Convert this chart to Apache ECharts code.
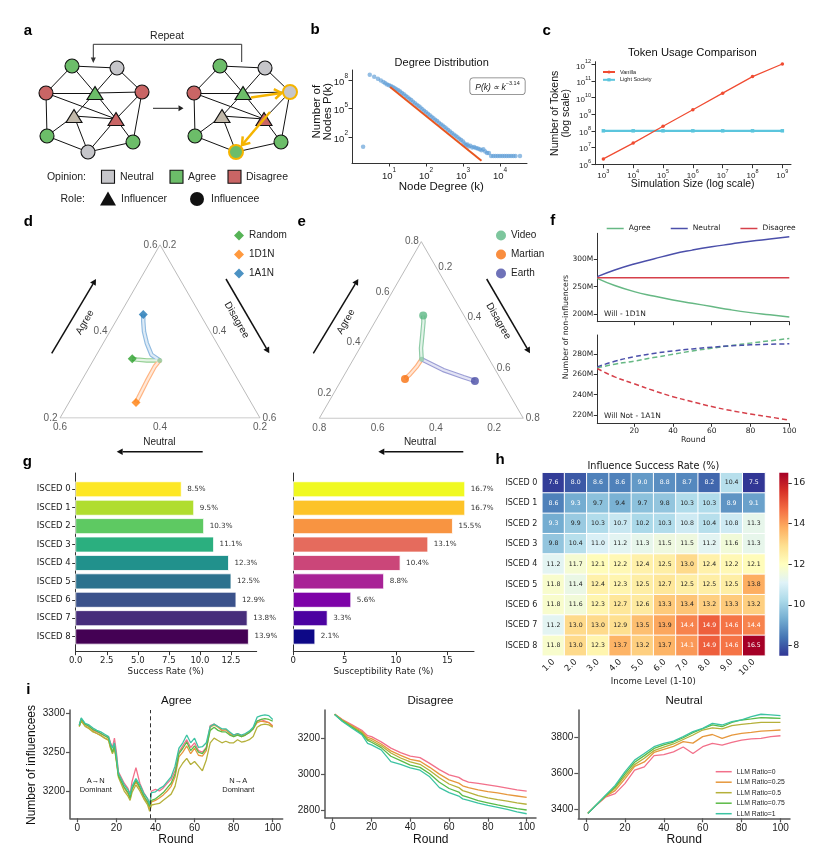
<!DOCTYPE html>
<html>
<head>
<meta charset="utf-8">
<script src="https://cdn.jsdelivr.net/npm/echarts@6.0.0/dist/echarts.min.js"></script>
<style>
html, body { margin: 0; padding: 0; background: #fff; }
#main { width: 817px; height: 863px; }
</style>
</head>
<body>
<div id="main"></div>
<script>
var SANS = "'Liberation Sans', Arial, Helvetica, sans-serif";
var DJ = "'DejaVu Sans', sans-serif";

// ---------- a: network sketch ----------
var netNodes = [
  ['TL', 72, 66, 'circle', 'agree'],
  ['TR', 117, 68, 'circle', 'neutral'],
  ['L', 46, 93, 'circle', 'disagree'],
  ['GT', 95, 93, 'triangle', 'agree'],
  ['R', 142, 92, 'circle', 'disagree'],
  ['NT', 74, 116, 'triangle', 'neutral'],
  ['DT', 116, 119, 'triangle', 'disagree'],
  ['BL', 47, 136, 'circle', 'agree'],
  ['B', 88, 152, 'circle', 'neutral'],
  ['BR', 133, 142, 'circle', 'agree']
];
var netEdges = [['TL','TR'],['TL','L'],['TL','GT'],['TR','GT'],['TR','R'],['L','GT'],['L','DT'],
  ['GT','R'],['GT','NT'],['GT','DT'],['R','DT'],['R','BR'],['NT','DT'],['NT','BL'],['NT','B'],
  ['DT','B'],['DT','BR'],['L','BL'],['BL','B'],['B','BR']];
var netShift = 148;
var netChanged = {R: 'neutral', B: 'agree'};
var opinionColor = {neutral: '#C6C6CA', agree: '#6CBD69', disagree: '#C96565'};
var influencerColor = {neutral: '#C2B9AA', agree: '#6CBD69', disagree: '#C96565'};

// ---------- b: degree distribution (log10 k, log10 count) ----------
var degreeDist = [[0.30,0.98],[0.48,8.56],[0.60,8.34],[0.70,8.13],[0.78,7.95],[0.85,7.78],[0.90,7.65],[0.95,7.53],
  [1.00,7.45],[1.05,7.36],[1.10,7.26],[1.15,7.15],[1.20,7.03],[1.25,6.91],[1.30,6.78],[1.35,6.64],[1.40,6.50],
  [1.45,6.35],[1.50,6.19],[1.55,6.03],[1.60,5.88],[1.65,5.72],[1.70,5.56],[1.75,5.40],[1.80,5.25],[1.85,5.09],
  [1.90,4.92],[1.95,4.77],[2.00,4.61],[2.05,4.45],[2.10,4.29],[2.15,4.14],[2.20,3.98],[2.25,3.82],[2.30,3.67],
  [2.35,3.51],[2.40,3.35],[2.45,3.20],[2.50,3.04],[2.55,2.88],[2.60,2.73],[2.65,2.57],[2.70,2.41],[2.75,2.25],
  [2.80,2.12],[2.85,1.96],[2.90,1.82],[2.95,1.68],[3.00,1.52],[3.04,1.30],[3.08,1.15],[3.12,1.20],[3.15,1.00],
  [3.20,1.08],[3.25,0.90],[3.30,0.95],[3.35,0.85],[3.40,0.78],[3.45,0.70],[3.50,0.60],[3.55,0.70],[3.60,0.48],
  [3.65,0.30],[3.70,0.30],[3.76,0],[3.82,0],[3.88,0],[3.94,0],[4.00,0],[4.06,0],[4.12,0],[4.18,0],[4.24,0],
  [4.30,0],[4.36,0],[4.42,0],[4.54,0]];
var fitLine = [[1.03,7.26],[3.50,-0.50]];
var degreeTicksX = [1,2,3,4];
var degreeTicksY = [2,5,8];

// ---------- c: token usage ----------
var simSizes = [1e3,1e4,1e5,1e6,1e7,1e8,1e9];
var vanillaTokens = [2e6,1.8e7,1.9e8,1.9e9,1.9e10,1.9e11,1.1e12];
var lightTokens = [1e8,1e8,1e8,1e8,1e8,1e8,1e8];
var tokenTicksX = [3,4,5,6,7,8,9];
var tokenTicksY = [6,7,8,9,10,11,12];

// ---------- d, e: ternary trajectories [agree, neutral, disagree] ----------
var ternTicksD = [0.2,0.4,0.6];
var trajRandom = [[0.333,0.334,0.333],[0.333,0.360,0.307],[0.335,0.379,0.286],[0.337,0.387,0.276]];
var traj1D1N = [[0.333,0.334,0.333],[0.319,0.351,0.330],[0.285,0.384,0.331],[0.254,0.413,0.333],[0.236,0.430,0.334]];
var traj1A1N = [[0.333,0.334,0.333],[0.346,0.344,0.310],[0.373,0.340,0.287],[0.400,0.332,0.268],[0.423,0.322,0.255],[0.439,0.314,0.247]];
var ternTicksE = [0.2,0.4,0.6,0.8];
var trajVideo = [[0.334,0.332,0.334],[0.378,0.312,0.310],[0.431,0.281,0.288],[0.483,0.251,0.266],[0.507,0.240,0.253]];
var trajMartian = [[0.334,0.332,0.334],[0.305,0.363,0.332],[0.274,0.402,0.324],[0.256,0.428,0.316]];
var trajEarth = [[0.334,0.332,0.334],[0.291,0.279,0.430],[0.263,0.224,0.513],[0.248,0.192,0.560]];

// ---------- f: non-influencers (millions) ----------
var roundsF = [1,10,20,30,40,50,60,70,80,90,100];
var willAgree = [265,252,241,233,226,220,214,208,203,199,195];
var willNeutral = [268,280,291,300,309,316,322,327,332,336,340];
var willDisagree = [266,266,266,266,266,266,266,266,266,266,266];
var notAgree = [266.3,270,273,276.5,279.7,283,285.7,288.3,290.7,293,295.3];
var notNeutral = [267.3,272.8,277.3,280.5,283,285,286.7,288,289,289.6,290];
var notDisagree = [265.7,257.5,250.7,244,238,233,228.3,224.3,221,218,215];
var roundTicksF = [20,40,60,80,100];

// ---------- g: education ----------
var isced = ['ISCED 0','ISCED 1','ISCED 2','ISCED 3','ISCED 4','ISCED 5','ISCED 6','ISCED 7','ISCED 8'];
var successRate = [8.5,9.5,10.3,11.1,12.3,12.5,12.9,13.8,13.9];
var susceptRate = [16.7,16.7,15.5,13.1,10.4,8.8,5.6,3.3,2.1];
var viridis9 = ['#FDE725','#B0DD2F','#5EC962','#2BAF7F','#21918C','#2C728E','#3B528B','#472D7B','#440154'];
var plasma9 = ['#F0F921','#FDC328','#F89441','#E56B5D','#CB4679','#A82296','#7E03A8','#4C02A1','#0D0887'];

// ---------- h: heatmap ----------
var incomeLevels = ['1.0','2.0','3.0','4.0','5.0','6.0','7.0','8.0','9.0','10.0'];
var heatRows = [
  [7.6,8.0,8.6,8.6,9.0,8.8,8.7,8.2,10.4,7.5],
  [8.6,9.3,9.7,9.4,9.7,9.8,10.3,10.3,8.9,9.1],
  [9.3,9.9,10.3,10.7,10.2,10.3,10.8,10.4,10.8,11.3],
  [9.8,10.4,11.0,11.2,11.3,11.5,11.5,11.2,11.6,11.3],
  [11.2,11.7,12.1,12.2,12.4,12.5,13.0,12.4,12.2,12.1],
  [11.8,11.4,12.4,12.3,12.5,12.7,12.5,12.5,12.5,13.8],
  [11.8,11.6,12.3,12.7,12.6,13.3,13.4,13.2,13.3,13.2],
  [11.2,13.0,13.0,12.9,13.5,13.9,14.4,14.9,14.6,14.4],
  [11.8,13.0,12.3,13.7,13.2,13.7,14.1,14.9,14.6,16.5]
];
var rdylbuR = ['#313695','#4575B4','#74ADD1','#ABD9E9','#E0F3F8','#FFFFBF','#FEE090','#FDAE61','#F46D43','#D73027','#A50026'];
var heatRange = [7.5,16.5];
var cbarTicks = [8,10,12,14,16];

// ---------- i: influencees per round ----------
var ratioNames = ['LLM Ratio=0','LLM Ratio=0.25','LLM Ratio=0.5','LLM Ratio=0.75','LLM Ratio=1'];
var ratioColors = ['#F2708A','#E6973C','#B5B03A','#5BBA46','#3CC3A2'];
var roundsA = [1,2,4,6,8,10,12,14,16,17,18,19,20,21,22,24,26,27,28,30,32,34,36,37,38,40,42,44,46,48,50,
  52,54,56,58,60,62,64,66,68,70,72,74,76,78,80,82,84,86,88,90,92,94,96,98,100];
var agreeRuns = [
  [3285,3292,3286,3284,3279,3276,3274,3271,3270,3262,3256,3268,3250,3225,3220,3210,3203,3196,3212,3230,
   3210,3198,3190,3180,3200,3202,3200,3204,3210,3215,3226,3250,3258,3266,3256,3262,3252,3250,3256,3284,3286,
   3283,3278,3279,3274,3272,3274,3271,3273,3276,3280,3290,3292,3290,3288,3284],
  [3283,3291,3284,3281,3277,3274,3272,3268,3266,3256,3250,3258,3240,3222,3216,3204,3196,3190,3202,3212,
   3203,3192,3184,3177,3186,3188,3191,3195,3200,3206,3218,3244,3250,3258,3248,3255,3246,3245,3252,3282,3285,
   3282,3278,3279,3274,3270,3273,3270,3272,3276,3280,3288,3290,3289,3288,3283],
  [3283,3290,3283,3280,3276,3274,3271,3268,3265,3255,3248,3255,3238,3218,3212,3200,3193,3188,3198,3208,
   3200,3190,3182,3174,3182,3183,3184,3188,3192,3196,3206,3228,3236,3242,3234,3238,3232,3226,3240,3262,3268,
   3265,3262,3264,3262,3262,3266,3263,3264,3266,3270,3282,3285,3286,3285,3282],
  [3284,3293,3286,3283,3279,3277,3274,3271,3268,3258,3250,3258,3240,3220,3215,3205,3198,3191,3203,3214,
   3205,3194,3186,3180,3188,3190,3194,3198,3204,3210,3222,3248,3255,3263,3252,3258,3250,3248,3255,3278,3282,
   3278,3276,3276,3272,3270,3272,3270,3272,3275,3280,3290,3292,3293,3292,3290],
  [3285,3294,3287,3285,3281,3278,3276,3273,3270,3261,3255,3262,3246,3223,3218,3208,3201,3195,3206,3216,
   3208,3197,3190,3183,3198,3199,3203,3206,3212,3218,3232,3255,3262,3272,3262,3268,3256,3257,3262,3283,3286,
   3283,3280,3280,3276,3272,3274,3272,3274,3277,3282,3295,3297,3298,3297,3292]
];
var roundsD = [1,5,10,15,18,20,25,30,35,40,45,50,55,60,65,67,70,75,80,85,90,95,100];
var disagreeRuns = [
  [3335,3305,3275,3245,3215,3209,3180,3145,3120,3100,3092,3060,3025,2996,2982,2968,2955,2948,2940,2932,2922,2912,2905],
  [3334,3302,3270,3238,3205,3198,3168,3130,3105,3082,3072,3038,3000,2968,2950,2935,2925,2912,2902,2895,2886,2878,2870],
  [3334,3300,3266,3232,3196,3188,3158,3118,3090,3068,3055,3020,2980,2945,2925,2908,2898,2880,2868,2858,2850,2840,2832],
  [3333,3297,3262,3226,3188,3178,3148,3100,3075,3050,3038,3002,2955,2920,2900,2880,2870,2852,2840,2828,2818,2808,2800],
  [3333,3294,3256,3220,3172,3163,3135,3070,3055,3035,3022,2985,2925,2897,2878,2862,2854,2838,2826,2815,2804,2790,2779]
];
var roundsN = [1,5,10,15,20,25,30,35,40,45,50,55,60,65,70,75,80,85,90,95,100];
var neutralRuns = [
  [3378,3420,3468,3488,3544,3619,3637,3700,3706,3721,3748,3712,3750,3768,3759,3774,3787,3793,3796,3806,3811],
  [3378,3421,3472,3505,3570,3640,3665,3718,3735,3752,3778,3770,3806,3818,3796,3815,3824,3830,3837,3840,3843],
  [3378,3421,3474,3518,3585,3650,3685,3728,3748,3765,3790,3815,3843,3855,3849,3868,3875,3880,3886,3886,3886],
  [3378,3422,3476,3526,3598,3663,3700,3740,3760,3776,3800,3828,3850,3872,3862,3885,3899,3905,3912,3910,3908],
  [3378,3422,3478,3534,3609,3675,3712,3750,3768,3781,3806,3834,3852,3880,3871,3890,3899,3918,3931,3927,3923]
];
var switchRound = 37.5;
var roundTicksI = [0,20,40,60,80,100];

// ================= helpers =================
function merge(a, b) {
  var o = {}, k;
  for (k in a) o[k] = a[k];
  for (k in b) {
    if (b[k] && typeof b[k] === 'object' && !Array.isArray(b[k]) && o[k] && typeof o[k] === 'object' && !Array.isArray(o[k])) o[k] = merge(o[k], b[k]);
    else o[k] = b[k];
  }
  return o;
}
function axis(gi, o) {
  return merge({
    gridIndex: gi, type: 'value',
    axisLine: {show: true, onZero: false, lineStyle: {color: '#333', width: 1}},
    axisTick: {show: true, length: 3.5, lineStyle: {color: '#333', width: 1}},
    axisLabel: {fontSize: 9, color: '#222', margin: 5, fontFamily: SANS},
    splitLine: {show: false}
  }, o || {});
}
function hidden(gi, min, max, inv) {
  return {gridIndex: gi, type: 'value', min: min, max: max, inverse: !!inv, show: false};
}
function zip(xs, ys) { return xs.map(function (x, i) { return [x, ys[i]]; }); }
function logZip(xs, ys) { return xs.map(function (x, i) { return [Math.log10(x), Math.log10(ys[i])]; }); }
function tern(p, lo, span) {
  var a = (p[0] - lo) / span, d = (p[2] - lo) / span;
  return [d + a / 2, a * 0.8660254];
}
function txt(x, y, s, o) {
  o = o || {};
  return {type: 'text', x: x, y: y, rotation: o.rot || 0, z: 50, silent: true,
    style: {text: s, fontSize: o.size || 10, fontFamily: o.font || SANS, fontWeight: o.bold ? 'bold' : 'normal',
      fill: o.color || '#111', align: o.align || 'center', verticalAlign: o.va || 'middle',
      lineHeight: o.lh, fontStyle: o.italic ? 'italic' : 'normal'}};
}
function arrow(x1, y1, x2, y2, o) {
  o = o || {};
  var c = o.color || '#111', w = o.w || 1.5, hs = o.head || 6, hw = o.hw || hs * 0.55;
  var ang = Math.atan2(y2 - y1, x2 - x1);
  var bx = x2 - hs * Math.cos(ang), by = y2 - hs * Math.sin(ang);
  var px = -Math.sin(ang) * hw, py = Math.cos(ang) * hw;
  var out = [{type: 'line', z: 50, silent: true, shape: {x1: x1, y1: y1, x2: o.open ? x2 : bx, y2: o.open ? y2 : by},
    style: {stroke: c, lineWidth: w}}];
  if (o.open) out.push({type: 'polyline', z: 50, silent: true, shape: {points: [[bx + px, by + py], [x2, y2], [bx - px, by - py]]},
    style: {stroke: c, lineWidth: w, fill: null}});
  else out.push({type: 'polygon', z: 50, silent: true, shape: {points: [[x2, y2], [bx + px, by + py], [bx - px, by - py]]}, style: {fill: c}});
  return out;
}
var richB = {b: {fontSize: 9.5, fontFamily: SANS, color: '#222', verticalAlign: 'bottom', padding: [4, 0, 0, 0]},
             s: {fontSize: 6.5, fontFamily: SANS, color: '#222', verticalAlign: 'top'}};
var richC = {b: {fontSize: 8, fontFamily: SANS, color: '#222', verticalAlign: 'bottom', padding: [3.5, 0, 0, 0]},
             s: {fontSize: 5.5, fontFamily: SANS, color: '#222', verticalAlign: 'top'}};
function pow10(v) { return '{b|10}{s|' + v + '}'; }

// ================= grids =================
var grids = [
  [0, 0, 817, 863],            // 0 overlay (panel a)
  [352, 70, 175, 93],          // 1 b
  [595, 61.7, 196, 103],       // 2 c
  [60, 244.8, 200, 173.2],     // 3 d
  [319.3, 241.6, 204, 176.7],  // 4 e
  [597.3, 233.3, 192, 88.4],   // 5 f top
  [597.3, 335, 192, 88.3],     // 6 f bottom
  [75.7, 473, 181, 178.7],     // 7 g left
  [293.3, 473, 180.7, 178.7],  // 8 g right
  [542.3, 472.7, 222.7, 183],  // 9 h heatmap
  [779.3, 472.7, 9, 183],      // 10 h colorbar
  [70, 710, 212.7, 108.3],     // 11 i agree
  [325, 710, 211, 107.7],      // 12 i disagree
  [578.3, 710, 211.7, 108.3]   // 13 i neutral
];

var fLab = {fontFamily: DJ, fontSize: 7.5, color: '#222', margin: 4};
var gLab = {fontFamily: DJ, fontSize: 8.5, color: '#222', margin: 5};
var iAxisStyle = {axisLine: {lineStyle: {color: '#555', width: 1.5}}, axisTick: {length: 4, lineStyle: {color: '#555', width: 1.2}},
  axisLabel: {fontSize: 10, color: '#222', margin: 5, formatter: function (v) { return String(v); }}};

var xAxes = [
  hidden(0, 0, 817),
  axis(1, {min: 0, max: 4.73, axisTick: {customValues: degreeTicksX}, axisLabel: {customValues: degreeTicksX, formatter: pow10, rich: richB, margin: 4}}),
  axis(2, {min: 2.72, max: 9.29, axisTick: {customValues: tokenTicksX}, axisLabel: {customValues: tokenTicksX, formatter: pow10, rich: richC, margin: 4}}),
  hidden(3, 0, 1),
  hidden(4, 0, 1),
  axis(5, {min: 1, max: 100, axisTick: {customValues: roundTicksF}, axisLabel: {show: false}}),
  axis(6, {min: 1, max: 100, axisTick: {customValues: roundTicksF}, axisLabel: merge(fLab, {customValues: roundTicksF})}),
  axis(7, {min: 0, max: 14.57, axisTick: {customValues: [0, 2.5, 5, 7.5, 10, 12.5]},
    axisLabel: merge(gLab, {customValues: [0, 2.5, 5, 7.5, 10, 12.5], formatter: function (v) { return v.toFixed(1); }})}),
  axis(8, {min: 0, max: 17.6, axisTick: {customValues: [0, 5, 10, 15]},
    axisLabel: merge(gLab, {customValues: [0, 5, 10, 15], formatter: function (v) { return String(v); }})}),
  {gridIndex: 9, type: 'category', data: incomeLevels, axisLine: {show: false},
    axisTick: {alignWithLabel: true, length: 3.5, lineStyle: {color: '#333'}},
    axisLabel: {rotate: 45, fontFamily: DJ, fontSize: 8.5, color: '#222', margin: 5}, splitLine: {show: false}},
  hidden(10, 0, 1),
  axis(11, merge(iAxisStyle, {min: -3.74, max: 105.1, axisTick: {customValues: roundTicksI}, axisLabel: {customValues: roundTicksI}})),
  axis(12, merge(iAxisStyle, {min: -3.97, max: 104.8, axisTick: {customValues: roundTicksI}, axisLabel: {customValues: roundTicksI}})),
  axis(13, merge(iAxisStyle, {min: -3.95, max: 104.9, axisTick: {customValues: roundTicksI}, axisLabel: {customValues: roundTicksI}}))
];
var iscedIdx = [0, 1, 2, 3, 4, 5, 6, 7, 8];
var yAxes = [
  hidden(0, 0, 863, true),
  axis(1, {min: -0.74, max: 9.05, axisTick: {customValues: degreeTicksY}, axisLabel: {customValues: degreeTicksY, formatter: pow10, rich: richB, margin: 4}}),
  axis(2, {min: 5.95, max: 12.18, axisTick: {customValues: tokenTicksY}, axisLabel: {customValues: tokenTicksY, formatter: pow10, rich: richC, margin: 4}}),
  hidden(3, 0, 0.8660254),
  hidden(4, 0, 0.8660254),
  axis(5, {min: 186.6, max: 346.4, axisTick: {customValues: [200, 250, 300]},
    axisLabel: merge(fLab, {customValues: [200, 250, 300], formatter: function (v) { return v + 'M'; }})}),
  axis(6, {min: 211.8, max: 298.7, axisTick: {customValues: [220, 240, 260, 280]},
    axisLabel: merge(fLab, {customValues: [220, 240, 260, 280], formatter: function (v) { return v + 'M'; }})}),
  axis(7, {inverse: true, min: -0.885, max: 8.82, axisTick: {customValues: iscedIdx},
    axisLabel: merge(gLab, {customValues: iscedIdx, formatter: function (v) { return isced[v]; }})}),
  axis(8, {inverse: true, min: -0.885, max: 8.82, axisTick: {show: false}, axisLabel: {show: false}}),
  {gridIndex: 9, type: 'category', data: isced, inverse: true, axisLine: {show: false},
    axisTick: {alignWithLabel: true, length: 3.5, lineStyle: {color: '#333'}},
    axisLabel: {fontFamily: DJ, fontSize: 8, color: '#222', margin: 5}, splitLine: {show: false}},
  axis(10, {position: 'right', min: heatRange[0], max: heatRange[1], axisLine: {show: false},
    axisTick: {customValues: cbarTicks}, axisLabel: merge(gLab, {fontSize: 9.5, customValues: cbarTicks})}),
  axis(11, merge(iAxisStyle, {min: 3164.9, max: 3304.2, axisTick: {customValues: [3200, 3250, 3300]}, axisLabel: {customValues: [3200, 3250, 3300]}})),
  axis(12, merge(iAxisStyle, {min: 2757, max: 3357.9, axisTick: {customValues: [2800, 3000, 3200]}, axisLabel: {customValues: [2800, 3000, 3200]}})),
  axis(13, merge(iAxisStyle, {min: 3350.3, max: 3954.7, axisTick: {customValues: [3400, 3600, 3800]}, axisLabel: {customValues: [3400, 3600, 3800]}}))
];

// ================= series =================
var series = [];

// a: two network states as graph series
function netSeries(offset, changed) {
  return {
    type: 'graph', coordinateSystem: 'cartesian2d', xAxisIndex: 0, yAxisIndex: 0, silent: true, z: 3,
    data: netNodes.map(function (n) {
      var op = (changed && changed[n[0]]) || n[4];
      var hl = !!(changed && changed[n[0]]);
      var tri = n[3] === 'triangle';
      return {name: n[0], value: [n[1] + offset, n[2]], symbol: n[3], symbolSize: tri ? [16, 13] : 14,
        itemStyle: {color: tri ? influencerColor[op] : opinionColor[op], borderColor: hl ? '#F5B400' : '#111', borderWidth: hl ? 2 : 1.1}};
    }),
    links: netEdges.map(function (e) { return {source: e[0], target: e[1]}; }),
    lineStyle: {color: '#111', width: 1, opacity: 1, curveness: 0},
    label: {show: false}, emphasis: {disabled: true}
  };
}
series.push(netSeries(0, null));
series.push(netSeries(netShift, netChanged));

// b
series.push({type: 'scatter', name: 'degree', xAxisIndex: 1, yAxisIndex: 1, data: degreeDist, symbolSize: 4.5,
  itemStyle: {color: '#5B9BD5', opacity: 0.65}, silent: true});
series.push({type: 'line', xAxisIndex: 1, yAxisIndex: 1, data: fitLine, symbol: 'none',
  lineStyle: {color: '#E8561F', width: 2}, silent: true, z: 4});

// c
series.push({type: 'line', name: 'Vanilla', xAxisIndex: 2, yAxisIndex: 2, data: logZip(simSizes, vanillaTokens),
  symbol: 'circle', symbolSize: 3.5, lineStyle: {color: '#F04B31', width: 1.2}, itemStyle: {color: '#F04B31'}, z: 4});
series.push({type: 'line', name: 'Light Society', xAxisIndex: 2, yAxisIndex: 2, data: logZip(simSizes, lightTokens),
  symbol: 'rect', symbolSize: 3.5, lineStyle: {color: '#5BC5DD', width: 2.2}, itemStyle: {color: '#5BC5DD'}, z: 3});

// d, e: ternary
function ternarySeries(gi, lo, ticks, trajs, endSymbol, endSize, startColor) {
  var span = 1 - 3 * lo, hi = 1 - 2 * lo, out = [];
  var corners = [[lo, hi, lo], [lo, lo, hi], [hi, lo, lo], [lo, hi, lo]];
  out.push({type: 'line', xAxisIndex: gi, yAxisIndex: gi, silent: true, symbol: 'none',
    data: corners.map(function (p) { return tern(p, lo, span); }), lineStyle: {color: '#BBBBBB', width: 1}});
  var labs = [];
  ticks.forEach(function (t) {
    var s = t.toFixed(1);
    labs.push({value: tern([t, 1 - t - lo, lo], lo, span), label: {position: 'left', distance: 2, formatter: s}});
    labs.push({value: tern([1 - lo - t, lo, t], lo, span), label: {position: 'right', distance: 2, formatter: s}});
    labs.push({value: tern([lo, t, 1 - lo - t], lo, span), label: {position: 'bottom', distance: 4, formatter: s}});
  });
  out.push({type: 'scatter', xAxisIndex: gi, yAxisIndex: gi, silent: true, symbolSize: 1, data: labs,
    itemStyle: {color: 'rgba(0,0,0,0)'}, label: {show: true, fontSize: 10, fontFamily: SANS, color: '#333'}});
  trajs.forEach(function (tr) {
    var pts = tr.data.map(function (p) { return tern(p, lo, span); });
    out.push({type: 'line', xAxisIndex: gi, yAxisIndex: gi, silent: true, symbol: 'none', data: pts,
      lineStyle: {color: tr.outer, width: 4.5}, z: 3});
    out.push({type: 'line', xAxisIndex: gi, yAxisIndex: gi, silent: true, symbol: 'none', data: pts,
      lineStyle: {color: tr.inner, width: 2.2}, z: 4});
    out.push({type: 'scatter', name: tr.name, xAxisIndex: gi, yAxisIndex: gi, silent: true, symbol: endSymbol,
      symbolSize: endSize, data: [pts[pts.length - 1]], itemStyle: {color: tr.color}, z: 6});
  });
  out.push({type: 'scatter', xAxisIndex: gi, yAxisIndex: gi, silent: true, symbolSize: 5,
    data: [tern(trajs[0].data[0], lo, span)], itemStyle: {color: startColor}, z: 5});
  return out;
}
series = series.concat(ternarySeries(3, 0.2, ternTicksD, [
  {name: 'Random', data: trajRandom, color: '#2CA02C', outer: '#93CF93', inner: '#E4F4E4'},
  {name: '1D1N', data: traj1D1N, color: '#FF7F0E', outer: '#FFB584', inner: '#FFE9D9'},
  {name: '1A1N', data: traj1A1N, color: '#1F77B4', outer: '#91BBE0', inner: '#DDEBF7'}
], 'diamond', 9, '#94C594'));
series = series.concat(ternarySeries(4, 0.1, ternTicksE, [
  {name: 'Video', data: trajVideo, color: '#5DB884', outer: '#8ECBA6', inner: '#E2F3E8'},
  {name: 'Martian', data: trajMartian, color: '#F7700F', outer: '#FFB07E', inner: '#FFE7D6'},
  {name: 'Earth', data: trajEarth, color: '#4B4FA6', outer: '#9C9ED5', inner: '#E3E4F5'}
], 'circle', 8, '#8ECBA6'));

// f
var fColors = {Agree: '#66B884', Neutral: '#4B4FAA', Disagree: '#D6404A'};
[['Agree', willAgree], ['Neutral', willNeutral], ['Disagree', willDisagree]].forEach(function (s) {
  series.push({type: 'line', name: s[0], xAxisIndex: 5, yAxisIndex: 5, data: zip(roundsF, s[1]), smooth: true,
    symbol: 'none', lineStyle: {color: fColors[s[0]], width: 1.5}, itemStyle: {color: fColors[s[0]]}, silent: true});
});
[['Agree', notAgree], ['Neutral', notNeutral], ['Disagree', notDisagree]].forEach(function (s) {
  series.push({type: 'line', name: s[0] + ' (Will Not)', xAxisIndex: 6, yAxisIndex: 6, data: zip(roundsF, s[1]), smooth: true,
    symbol: 'none', lineStyle: {color: fColors[s[0]], width: 1.5, type: [5, 3]}, silent: true});
});

// g
function barRender(colors) {
  return function (params, api) {
    var v = api.value(0), i = api.value(1);
    var p0 = api.coord([0, i]), p1 = api.coord([v, i]);
    var h = api.size([0, 0.82])[1];
    return {type: 'group', children: [
      {type: 'rect', shape: {x: p0[0], y: p0[1] - h / 2, width: p1[0] - p0[0], height: h},
        style: {fill: colors[i], stroke: 'rgba(255,255,255,0.8)', lineWidth: 1}},
      {type: 'text', style: {text: v.toFixed(1) + '%', x: p1[0] + 6, y: p1[1], align: 'left', verticalAlign: 'middle',
        fontSize: 7.2, fontFamily: DJ, fill: '#333'}}
    ]};
  };
}
series.push({type: 'custom', xAxisIndex: 7, yAxisIndex: 7, clip: false, silent: true,
  data: successRate.map(function (v, i) { return [v, i]; }), renderItem: barRender(viridis9)});
series.push({type: 'custom', xAxisIndex: 8, yAxisIndex: 8, clip: false, silent: true,
  data: susceptRate.map(function (v, i) { return [v, i]; }), renderItem: barRender(plasma9)});

// h
var heatData = [];
heatRows.forEach(function (row, r) {
  row.forEach(function (v, c) {
    var light = v < 9.35 || v >= 14.0;
    heatData.push({value: [c, r, v], label: {color: light ? '#FFFFFF' : '#222'}});
  });
});
var heatIndex = series.length;
series.push({type: 'heatmap', xAxisIndex: 9, yAxisIndex: 9, data: heatData, silent: true,
  itemStyle: {borderColor: '#FFFFFF', borderWidth: 1},
  label: {show: true, fontSize: 6.2, fontFamily: DJ, formatter: function (p) { return p.value[2].toFixed(1); }}});
series.push({type: 'custom', xAxisIndex: 10, yAxisIndex: 10, silent: true, clip: false,
  data: [[0, heatRange[0]]],
  renderItem: function (params, api) {
    var p0 = api.coord([0, heatRange[0]]), p1 = api.coord([1, heatRange[1]]);
    var stops = rdylbuR.map(function (c, i) { return {offset: i / (rdylbuR.length - 1), color: c}; });
    return {type: 'rect', shape: {x: p0[0], y: p1[1], width: p1[0] - p0[0], height: p0[1] - p1[1]},
      style: {fill: new echarts.graphic.LinearGradient(0, 1, 0, 0, stops)}};
  }});

// i
function runSeries(gi, rounds, runs, tag) {
  runs.forEach(function (run, k) {
    var s = {type: 'line', name: ratioNames[k], xAxisIndex: gi, yAxisIndex: gi, data: zip(rounds, run), symbol: 'none',
      lineStyle: {color: ratioColors[k], width: 1.3}, itemStyle: {color: ratioColors[k]}, silent: true};
    if (tag && k === 0) {
      s.markLine = {silent: true, symbol: 'none', label: {show: false}, data: [{xAxis: switchRound}],
        lineStyle: {color: '#333', width: 1, type: [4, 3]}};
    }
    series.push(s);
  });
}
runSeries(11, roundsA, agreeRuns, true);
runSeries(12, roundsD, disagreeRuns, false);
runSeries(13, roundsN, neutralRuns, false);

// ================= decorations =================
var deco = [];
// panel letters
[['a', 28, 31], ['b', 315, 30], ['c', 546.7, 30.7], ['d', 28.3, 222.3], ['e', 301.7, 222.3], ['f', 552.7, 221],
 ['g', 27.3, 461.7], ['h', 500, 460], ['i', 28.3, 690]].forEach(function (l) {
  deco.push(txt(l[1], l[2], l[0], {size: 15, bold: true, color: '#000'}));
});
// a
deco.push(txt(167, 36, 'Repeat', {size: 10.5, color: '#222'}));
deco.push({type: 'polyline', z: 50, silent: true, shape: {points: [[93.3, 58], [93.3, 44.3], [241.7, 44.3], [241.7, 62]]},
  style: {stroke: '#333', lineWidth: 1, fill: null}});
deco.push({type: 'polygon', z: 50, silent: true, shape: {points: [[93.3, 63], [90.8, 57.5], [95.8, 57.5]]}, style: {fill: '#333'}});
deco = deco.concat(arrow(153, 108.3, 183.5, 108.3, {color: '#222', w: 1, head: 5, hw: 3}));
deco = deco.concat(arrow(251, 97.5, 281.5, 93, {color: '#F5B400', w: 2.5, head: 7, hw: 5, open: true}));
deco = deco.concat(arrow(270, 112, 242, 145, {color: '#F5B400', w: 2.5, head: 7, hw: 5, open: true}));
deco.push(txt(86, 177, 'Opinion:', {size: 10.5, align: 'right', color: '#222'}));
[[101.5, 'neutral', 'Neutral', 120], [170, 'agree', 'Agree', 188], [228, 'disagree', 'Disagree', 246]].forEach(function (q) {
  deco.push({type: 'rect', z: 50, silent: true, shape: {x: q[0], y: 170.3, width: 13, height: 13},
    style: {fill: opinionColor[q[1]], stroke: '#111', lineWidth: 1.1}});
  deco.push(txt(q[3], 177, q[2], {size: 10.5, align: 'left', color: '#222'}));
});
deco.push(txt(85, 199, 'Role:', {size: 10.5, align: 'right', color: '#222'}));
deco.push({type: 'polygon', z: 50, silent: true, shape: {points: [[108, 191.5], [100, 205.5], [116, 205.5]]}, style: {fill: '#111'}});
deco.push(txt(121, 199, 'Influencer', {size: 10.5, align: 'left', color: '#222'}));
deco.push({type: 'circle', z: 50, silent: true, shape: {cx: 197, cy: 199, r: 7}, style: {fill: '#111'}});
deco.push(txt(211, 199, 'Influencee', {size: 10.5, align: 'left', color: '#222'}));
// b
deco.push(txt(441.7, 63.3, 'Degree Distribution', {size: 11}));
deco.push({type: 'text', x: 497.5, y: 86.3, z: 50, silent: true, style: {
  text: '{i|P(k) \u221d k}{s|\u22123.14}', align: 'center', verticalAlign: 'middle', fontFamily: SANS,
  padding: [2, 5, 2, 5], borderColor: '#777', borderWidth: 0.8, borderRadius: 3, backgroundColor: '#fff',
  rich: {i: {fontSize: 8.5, fontStyle: 'italic', fontFamily: SANS, fill: '#222', verticalAlign: 'bottom', padding: [3, 0, 0, 0]},
         s: {fontSize: 5.5, fontFamily: SANS, fill: '#222', verticalAlign: 'top'}}}});
deco.push(txt(441.3, 187.3, 'Node Degree (k)', {size: 11.5}));
deco.push(txt(322, 111.7, 'Number of\nNodes P(k)', {size: 11.5, rot: Math.PI / 2, lh: 11}));
// c
deco.push(txt(692.3, 52.7, 'Token Usage Comparison', {size: 11.2}));
deco.push(txt(692.7, 184.3, 'Simulation Size (log scale)', {size: 10.5}));
deco.push(txt(560.7, 113.3, 'Number of Tokens\n(log scale)', {size: 10.5, rot: Math.PI / 2, lh: 10.5}));
// d
deco.push(txt(85, 322.3, 'Agree', {size: 10, rot: Math.PI / 3, color: '#222'}));
deco.push(txt(236.7, 320, 'Disagree', {size: 10, rot: -Math.PI / 3, color: '#222'}));
deco.push(txt(159.3, 442.7, 'Neutral', {size: 10, color: '#222'}));
deco = deco.concat(arrow(51.7, 353.3, 96, 279), arrow(226, 279, 269.3, 353.3), arrow(202.7, 451.7, 116.7, 451.7));
// e
deco.push(txt(346, 321.7, 'Agree', {size: 10, rot: Math.PI / 3, color: '#222'}));
deco.push(txt(498.3, 321, 'Disagree', {size: 10, rot: -Math.PI / 3, color: '#222'}));
deco.push(txt(420, 442.7, 'Neutral', {size: 10, color: '#222'}));
deco = deco.concat(arrow(313.3, 353.3, 358.3, 279), arrow(486.7, 279, 530, 353.3), arrow(463.3, 451.7, 378.3, 451.7));
// f
deco.push(txt(604, 314, 'Will - 1D1N', {size: 7.5, font: DJ, align: 'left', color: '#222'}));
deco.push(txt(604, 416, 'Will Not - 1A1N', {size: 7.5, font: DJ, align: 'left', color: '#222'}));
deco.push(txt(693.3, 440, 'Round', {size: 7.8, font: DJ, color: '#222'}));
deco.push(txt(566, 327, 'Number of non-influencers', {size: 7.8, font: DJ, rot: Math.PI / 2, color: '#222'}));
// g
deco.push(txt(165.8, 671.7, 'Success Rate (%)', {size: 8.8, font: DJ, color: '#222'}));
deco.push(txt(383.5, 671.7, 'Susceptibility Rate (%)', {size: 8.8, font: DJ, color: '#222'}));
// h
deco.push(txt(653.3, 466.7, 'Influence Success Rate (%)', {size: 9.7, font: DJ, color: '#111'}));
deco.push(txt(653.3, 681.7, 'Income Level (1-10)', {size: 8.5, font: DJ, color: '#222'}));
// i
deco.push(txt(176.4, 700.7, 'Agree', {size: 11.5}));
deco.push(txt(430.5, 700.7, 'Disagree', {size: 11.5}));
deco.push(txt(684, 700.7, 'Neutral', {size: 11.5}));
[176, 430.8, 684.2].forEach(function (x) { deco.push(txt(x, 840, 'Round', {size: 12})); });
deco.push(txt(32, 765, 'Number of influencees', {size: 12, rot: Math.PI / 2}));
deco.push(txt(95.7, 785.5, 'A\u2192N\nDominant', {size: 7.5, lh: 9, color: '#222'}));
deco.push(txt(238.3, 785.5, 'N\u2192A\nDominant', {size: 7.5, lh: 9, color: '#222'}));

// ================= option =================
var option = {
  animation: false,
  backgroundColor: '#ffffff',
  textStyle: {fontFamily: SANS},
  grid: grids.map(function (g) {
    return {left: g[0], top: g[1], width: g[2], height: g[3], containLabel: false, outerBoundsMode: 'none'};
  }),
  xAxis: xAxes,
  yAxis: yAxes,
  legend: [
    {data: ['Vanilla', 'Light Society'], orient: 'vertical', left: 597, top: 64, itemWidth: 12, itemHeight: 4, itemGap: 1.8,
      textStyle: {fontSize: 5.5, color: '#222', fontFamily: SANS}, selectedMode: false},
    {data: ['Random', '1D1N', '1A1N'], orient: 'vertical', left: 229, top: 225.5, itemWidth: 10, itemHeight: 10, itemGap: 9,
      textStyle: {fontSize: 10, color: '#222', fontFamily: SANS}, selectedMode: false},
    {data: ['Video', 'Martian', 'Earth'], orient: 'vertical', left: 491, top: 225.5, itemWidth: 10, itemHeight: 10, itemGap: 9,
      textStyle: {fontSize: 10, color: '#222', fontFamily: SANS}, selectedMode: false},
    {data: ['Agree', 'Neutral', 'Disagree'], orient: 'horizontal', left: 601.7, top: 219.5, width: 215,
      icon: 'rect', itemWidth: 17, itemHeight: 1.5, itemGap: 20,
      textStyle: {fontSize: 7.5, color: '#222', fontFamily: DJ}, selectedMode: false},
    {data: ratioNames, orient: 'vertical', left: 710.7, top: 763.2, icon: 'rect', itemWidth: 16, itemHeight: 1.5, itemGap: 3.5,
      textStyle: {fontSize: 6.8, color: '#222', fontFamily: SANS}, selectedMode: false}
  ],
  visualMap: [{show: false, type: 'continuous', min: heatRange[0], max: heatRange[1], dimension: 2,
    seriesIndex: heatIndex, inRange: {color: rdylbuR}}],
  series: series,
  graphic: {elements: deco}
};

var myChart = echarts.init(document.getElementById('main'), null, {renderer: 'canvas'});
myChart.setOption(option);
</script>
</body>
</html>
